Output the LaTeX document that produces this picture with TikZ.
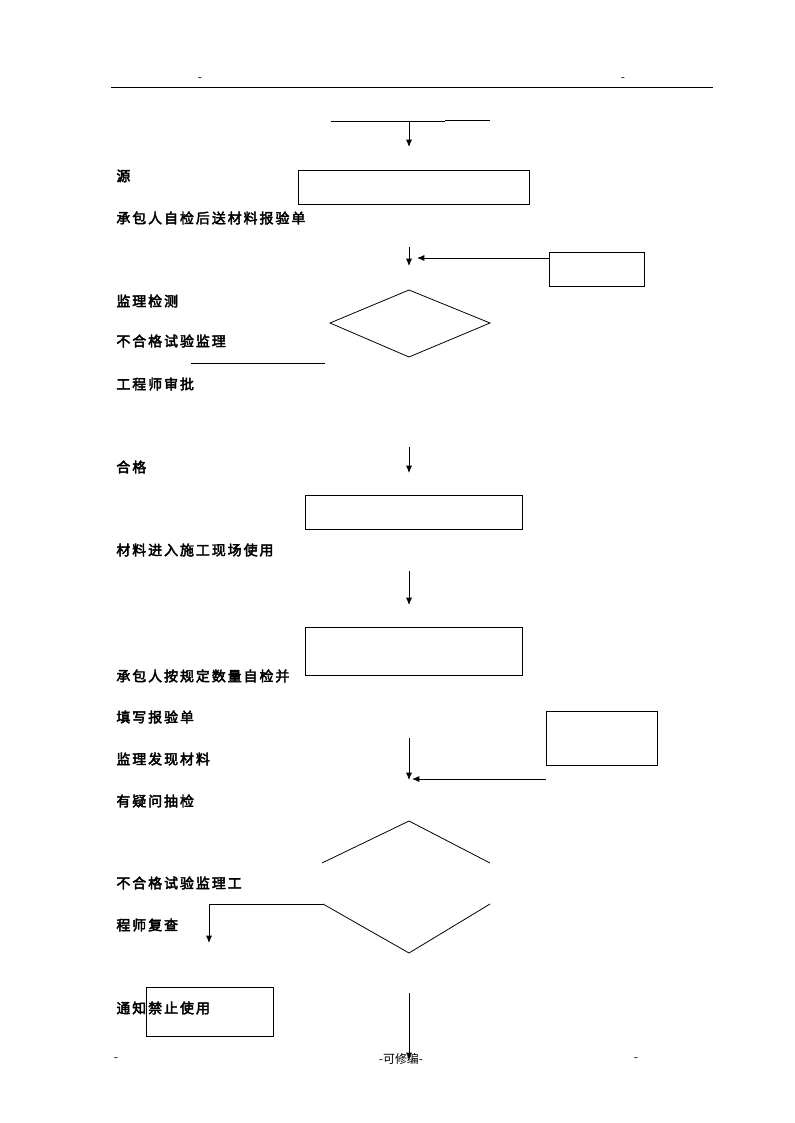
\documentclass[tikz,border=0pt]{standalone}
\usepackage{fontspec}
\usepackage{tikz}
\usetikzlibrary{arrows.meta}
\newfontfamily\cjk[FakeBold=3,LetterSpace=14]{Noto Sans CJK SC}
\newfontfamily\cjkfoot{Noto Sans CJK SC}

\begin{document}
\begin{tikzpicture}[x=0.26448mm,y=-0.26448mm,line width=0.6pt,>={Latex[length=5.5pt,width=4.5pt]},
  lab/.style={anchor=west,inner sep=0pt,font=\cjk\fontsize{10.5pt}{12pt}\selectfont},
  foot/.style={inner sep=0pt,font=\cjkfoot\fontsize{9pt}{10pt}\selectfont}]
\useasboundingbox (0,0) rectangle (794,1123);

% header and footer
\draw (111,87) -- (713,87);
\node[foot] (hl) at (200,80) {-};
\node[foot] (hr) at (623,80) {-};
\node[foot] (fl) at (116,1060) {-};
\node[foot] (fc) at (401,1059) {-可修编-};
\node[foot] (fr) at (636,1060) {-};

% top
\draw (331,121) -- (445,121);
\draw (445,120) -- (490,120);
\coordinate (t1) at (409,121);
\coordinate (t2) at (409,147);
\draw[->] (t1) -- (t2);
\draw (298,170) rectangle (529,204);
\node[lab] (src) at (116,176) {源};
\node[lab] (send) at (116,218) {承包人自检后送材料报验单};

% first check
\coordinate (a1) at (409,247);
\coordinate (a2) at (409,266);
\draw[->] (a1) -- (a2);
\draw (549,252) rectangle (644,286);
\coordinate (r1) at (549,258);
\coordinate (r2) at (417,258);
\draw[->] (r1) -- (r2);
\draw (409,290) -- (490,323) -- (409,357) -- (330,323) -- cycle;
\draw (191,363) -- (325,363);
\node[lab] (chk) at (116,301) {监理检测};
\node[lab] (bad) at (116,341) {不合格试验监理};
\node[lab] (appr) at (116,384) {工程师审批};

% pass
\coordinate (p1) at (409,447);
\coordinate (p2) at (409,473);
\draw[->] (p1) -- (p2);
\node[lab] (ok) at (116,467) {合格};
\draw (305,495) rectangle (522,529);
\node[lab] (use) at (116,550) {材料进入施工现场使用};
\coordinate (u1) at (409,571);
\coordinate (u2) at (409,605);
\draw[->] (u1) -- (u2);
\draw (305,627) rectangle (522,675);
\node[lab] (self) at (116,676) {承包人按规定数量自检并};
\node[lab] (fill) at (116,717) {填写报验单};

% second check
\draw (546,711) rectangle (657,765);
\coordinate (s1) at (409,738);
\coordinate (s2) at (409,780);
\draw[->] (s1) -- (s2);
\coordinate (q1) at (546,779);
\coordinate (q2) at (412,779);
\draw[->] (q1) -- (q2);
\node[lab] (find) at (116,759) {监理发现材料};
\node[lab] (doubt) at (116,801) {有疑问抽检};
\draw (322,863) -- (409,821) -- (490,863);
\draw (323,904) -- (409,953) -- (490,904);
\node[lab] (bad2) at (116,883) {不合格试验监理工};
\node[lab] (rev) at (116,925) {程师复查};
\coordinate (n1) at (323,904);
\coordinate (n2) at (209,943);
\draw[->] (n1) -| (n2);

% stop
\draw (146,987) rectangle (273,1036);
\node[lab] (stop) at (116,1008) {通知禁止使用};
\coordinate (e1) at (409,993);
\coordinate (e2) at (409,1060);
\draw[->] (e1) -- (e2);
\end{tikzpicture}
\end{document}
